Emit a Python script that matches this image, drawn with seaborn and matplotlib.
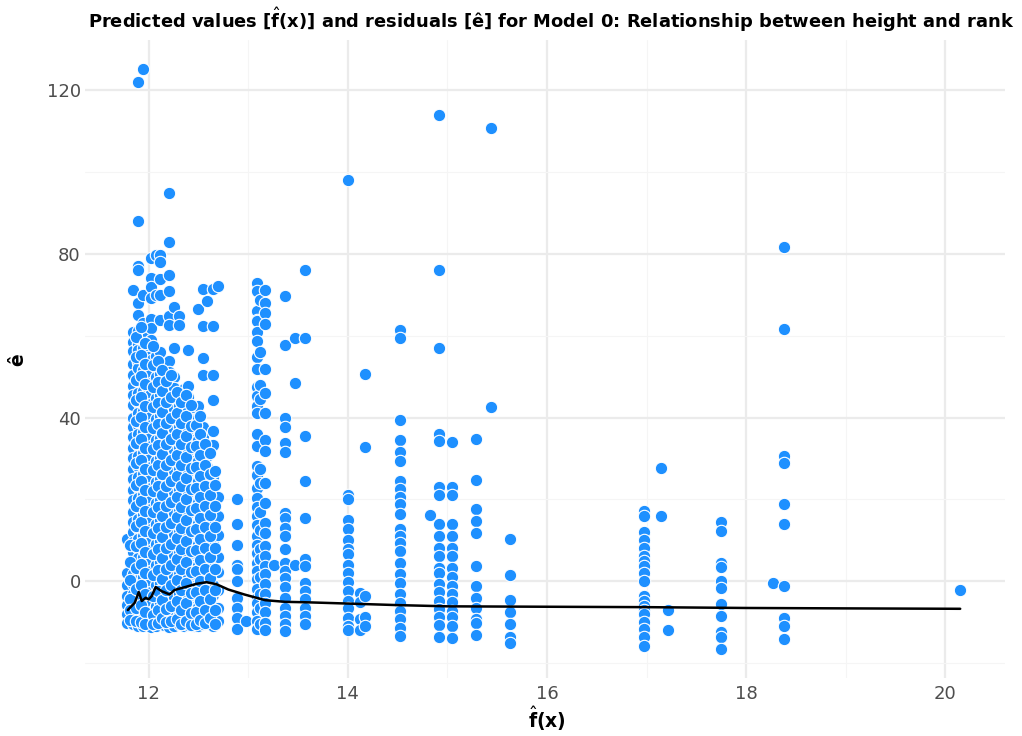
import numpy as np
import pandas as pd
import seaborn as sns
import matplotlib.pyplot as plt
from matplotlib.ticker import MultipleLocator

# fitted value levels of the dense block (f(x) around 11.8 - 12.7)
dense_fx = [11.78, 11.84, 11.89, 11.94, 11.99, 12.02, 12.07, 12.11, 12.15, 12.20,
            12.25, 12.30, 12.35, 12.39, 12.45, 12.49, 12.55, 12.59, 12.65, 12.70]
dense_resid = [
  [10.4, 2.1, -1.0, -3.5, -5.8, -8.0, -10.2],
  [71.2, 61.0, 58.5, 56.2, 53.0, 50.4, 47.8, 45.5, 43.1, 40.0, 37.6, 35.2, 32.5, 30.1, 27.4,
   24.9, 22.3, 19.8, 17.0, 14.6, 12.1, 9.5, 7.2, 4.4, 1.9, -0.6, -3.1, -5.4, -7.9, -10.3],
  [122.0, 88.0, 76.9, 76.1, 68.0, 65.0, 61.2, 58.0, 56.6, 53.5, 52.0, 48.9, 46.0, 43.7, 41.2,
   38.3, 36.0, 33.4, 30.6, 28.2, 25.5, 23.1, 20.4, 18.2, 15.3, 13.0, 10.4, 8.1, 5.6, 3.0, 0.4,
   -2.2, -4.6, -7.0, -9.2, -11.0],
  [125.0, 70.0, 63.1, 59.8, 57.0, 54.4, 51.7, 49.0, 46.5, 44.1, 41.6, 39.0, 36.4, 34.0, 31.3,
   28.8, 26.3, 23.7, 21.0, 18.7, 16.1, 13.5, 11.0, 8.6, 6.0, 3.5, 1.0, -1.6, -4.2, -6.6, -8.8, -10.9],
  [60.1, 57.2, 54.8, 52.1, 49.6, 47.0, 44.3, 41.9, 39.4, 36.9, 34.2, 31.8, 29.3, 26.6, 24.1,
   21.5, 19.0, 16.5, 14.0, 11.6, 9.0, 6.5, 4.0, 1.5, -1.0, -3.6, -6.1, -8.3, -10.7],
  [79.0, 74.0, 71.9, 69.2, 64.1, 61.9, 59.0, 54.1, 51.0, 48.4, 45.9, 43.2, 40.7, 38.2, 35.6,
   33.0, 30.5, 28.0, 25.4, 22.8, 20.3, 17.7, 15.2, 12.7, 10.2, 7.7, 5.1, 2.6, 0.1, -2.5, -5.0,
   -7.4, -9.8, -11.1],
  [79.8, 70.0, 55.0, 52.4, 49.9, 47.2, 44.7, 42.0, 39.6, 37.0, 34.5, 31.9, 29.4, 26.8, 24.2,
   21.8, 19.2, 16.7, 14.1, 11.7, 9.1, 6.6, 4.1, 1.6, -1.0, -3.4, -5.9, -8.5, -10.8],
  [79.8, 77.9, 73.8, 70.0, 63.9, 55.9, 53.0, 50.6, 48.1, 45.4, 42.9, 40.3, 37.8, 35.1, 32.7,
   30.1, 27.5, 25.0, 22.4, 19.9, 17.3, 14.9, 12.3, 9.8, 7.2, 4.7, 2.2, -0.3, -2.9, -5.3, -7.8, -10.2],
  [50.2, 47.6, 45.0, 42.4, 39.9, 37.3, 34.8, 32.2, 29.7, 27.1, 24.6, 22.0, 19.5, 17.0, 14.4,
   11.9, 9.4, 6.8, 4.3, 1.7, -0.8, -3.3, -5.8, -8.2, -10.6],
  [94.8, 82.8, 74.7, 70.8, 64.7, 62.7, 53.7, 51.2, 48.6, 46.1, 43.5, 41.0, 38.4, 35.9, 33.3,
   30.8, 28.2, 25.7, 23.1, 20.6, 18.0, 15.5, 12.9, 10.4, 7.8, 5.3, 2.7, 0.2, -2.4, -4.9, -7.4,
   -9.9, -11.2],
  [66.9, 56.9, 50.0, 47.3, 44.8, 42.2, 39.7, 37.1, 34.6, 32.0, 29.5, 26.9, 24.4, 21.8, 19.3,
   16.7, 14.2, 11.6, 9.1, 6.5, 4.0, 1.4, -1.1, -3.7, -6.2, -8.7, -10.9],
  [64.7, 62.7, 45.3, 42.8, 40.2, 37.6, 35.1, 32.5, 30.0, 27.4, 24.9, 22.3, 19.8, 17.2, 14.7,
   12.1, 9.6, 7.0, 4.5, 1.9, -0.6, -3.2, -5.7, -8.1, -10.5],
  [47.0, 44.2, 41.5, 38.9, 36.4, 33.8, 31.3, 28.7, 26.2, 23.6, 21.1, 18.5, 16.0, 13.4, 10.9,
   8.3, 5.8, 3.2, 0.7, -1.9, -4.4, -6.9, -9.3, -11.0],
  [56.6, 47.6, 45.0, 42.0, 39.5, 36.9, 34.4, 31.8, 29.3, 26.7, 24.2, 21.6, 19.1, 16.5, 14.0,
   11.4, 8.9, 6.3, 3.8, 1.2, -1.3, -3.9, -6.4, -8.8, -10.7],
  [42.1, 39.6, 37.0, 34.5, 31.9, 29.4, 26.8, 24.3, 21.7, 19.2, 16.6, 14.1, 11.5, 9.0, 6.4,
   3.9, 1.3, -1.2, -3.8, -6.3, -8.6, -10.9],
  [66.5, 42.8, 39.9, 37.2, 34.6, 32.0, 29.5, 26.9, 24.4, 21.8, 19.3, 16.7, 14.2, 11.6, 9.1,
   6.5, 4.0, 1.4, -1.1, -3.7, -6.2, -8.7, -11.0],
  [71.4, 62.4, 54.6, 50.3, 37.8, 35.3, 32.7, 30.2, 27.6, 25.1, 22.5, 20.0, 17.4, 14.9, 12.3,
   9.8, 7.2, 4.7, 2.1, -0.4, -3.0, -5.5, -8.0, -10.5],
  [68.4, 30.6, 28.0, 25.4, 22.9, 20.3, 17.8, 15.2, 12.7, 10.1, 7.6, 5.0, 2.5, -0.1, -2.6,
   -5.2, -7.7, -10.2],
  [71.4, 62.4, 50.5, 44.4, 36.7, 33.4, 25.6, 22.1, 19.6, 17.0, 14.5, 11.9, 9.4, 6.8, 4.3,
   1.7, -0.8, -3.4, -5.9, -8.4, -10.8],
  [72.2, 20.5, 16.0, 11.2, 6.0, 2.3, -2.0, -6.5, -9.8],
]

# in-between levels of the dense block
dense_fx_b = [11.81, 11.87, 11.92, 11.96, 12.04, 12.09, 12.13, 12.17, 12.22, 12.28,
              12.32, 12.37, 12.42, 12.47, 12.52, 12.57, 12.62, 12.67]
dense_resid_b = [
  [8.8, 4.7, 0.3, -4.4, -6.9, -9.5],
  [59.6, 54.9, 49.2, 44.3, 39.1, 33.9, 29.0, 23.6, 18.5, 13.4, 8.7, 3.2, -1.9, -6.6, -9.8],
  [62.0, 55.3, 50.2, 45.0, 40.1, 34.8, 29.7, 24.5, 19.6, 14.4, 9.3, 4.2, -0.9, -5.8, -9.9],
  [58.3, 53.2, 48.1, 42.8, 37.7, 32.6, 27.5, 22.4, 17.3, 12.2, 7.1, 2.0, -3.1, -7.6, -10.4],
  [57.4, 52.8, 47.5, 42.5, 37.4, 32.3, 27.2, 22.1, 16.9, 11.8, 6.7, 1.6, -3.5, -8.1, -10.5],
  [53.8, 48.7, 43.6, 38.5, 33.4, 28.3, 23.2, 18.1, 13.0, 7.9, 2.8, -2.3, -7.0, -10.1],
  [51.6, 46.5, 41.4, 36.3, 31.2, 26.1, 21.0, 15.9, 10.8, 5.7, 0.6, -4.5, -9.0],
  [48.9, 43.8, 38.7, 33.6, 28.5, 23.4, 18.3, 13.2, 8.1, 3.0, -2.1, -6.8, -10.0],
  [50.4, 44.9, 39.8, 34.7, 29.6, 24.5, 19.4, 14.3, 9.2, 4.1, -1.0, -6.0, -9.6],
  [46.2, 41.1, 36.0, 30.9, 25.8, 20.7, 15.6, 10.5, 5.4, 0.3, -4.8, -9.2],
  [43.7, 38.6, 33.5, 28.4, 23.3, 18.2, 13.1, 8.0, 2.9, -2.2, -7.1, -10.3],
  [45.6, 40.5, 35.4, 30.3, 25.2, 20.1, 15.0, 9.9, 4.8, -0.3, -5.2, -9.7],
  [43.0, 37.9, 32.8, 27.7, 22.6, 17.5, 12.4, 7.3, 2.2, -2.9, -7.8, -10.6],
  [38.2, 33.1, 28.0, 22.9, 17.8, 12.7, 7.6, 2.5, -2.6, -7.5, -10.4],
  [40.4, 35.9, 30.8, 25.7, 20.6, 15.5, 10.4, 5.3, 0.2, -4.9, -9.4],
  [33.6, 28.5, 23.4, 18.3, 13.2, 8.1, 3.0, -2.1, -7.0, -10.2],
  [31.4, 26.3, 21.2, 16.1, 11.0, 5.9, 0.8, -4.3, -8.9],
  [27.0, 23.5, 18.4, 13.3, 8.2, 3.1, -2.0, -6.9, -10.4],
]

# sparser fitted value levels to the right
sparse_fx = [12.89, 12.98, 13.09, 13.12, 13.17, 13.26, 13.37, 13.47, 13.57, 14.00,
             14.12, 14.17, 14.52, 14.82, 14.92, 15.05, 15.29, 15.44, 15.63, 16.97,
             17.15, 17.22, 17.75, 18.27, 18.38, 20.15]
sparse_resid = [
  [20.2, 14.1, 9.0, 4.1, 3.1, 0.1, -4.0, -6.4, -8.9, -11.7],
  [-9.7],
  [72.9, 70.8, 65.9, 63.9, 63.5, 61.0, 58.6, 54.8, 51.9, 47.5, 45.2, 42.8, 41.0, 35.9, 33.0,
   28.1, 25.9, 22.8, 20.4, 18.2, 15.9, 13.7, 11.0, 9.0, 7.0, 4.6, 2.5, 0.5, -1.8, -4.0, -5.2,
   -7.6, -9.7, -11.7],
  [68.8, 56.0, 48.0, 44.5, 27.5, 24.0, 17.0, 12.5, 8.0, 5.5, 1.0, -3.0, -6.5, -10.5],
  [71.2, 68.0, 65.5, 62.9, 51.9, 46.0, 41.1, 34.5, 31.8, 24.1, 19.2, 14.3, 11.9, 8.6, 6.2,
   3.7, 1.7, -0.7, -3.2, -5.2, -7.6, -10.1, -12.0],
  [3.9],
  [69.6, 57.6, 39.9, 37.7, 33.7, 31.5, 16.7, 15.5, 13.1, 11.0, 7.8, 4.6, 2.5, 0.9, -1.3,
   -4.0, -6.4, -8.5, -10.5, -12.1],
  [59.4, 48.5, 3.9],
  [76.1, 59.4, 35.4, 24.5, 15.5, 5.5, 3.7, -0.3, -2.4, -4.4, -6.4, -8.5, -10.5],
  [98.0, 21.2, 20.0, 15.1, 12.8, 10.1, 8.0, 6.8, 4.1, 2.1, -0.1, -2.4, -4.8, -6.4, -9.0,
   -10.9, -11.9],
  [-2.9, -5.0, -9.1, -12.0],
  [50.7, 32.8, -3.5, -8.7, -11.0],
  [61.5, 59.4, 39.5, 34.4, 31.5, 29.5, 24.5, 22.6, 20.7, 18.8, 16.5, 12.7, 11.0, 9.4, 7.4,
   4.6, 1.7, -0.3, -3.2, -5.2, -7.2, -9.3, -11.3, -13.3],
  [16.2],
  [114.0, 76.0, 57.0, 36.1, 34.2, 23.1, 21.1, 14.1, 11.1, 8.2, 6.2, 3.3, 2.1, -0.7, -2.7,
   -4.8, -6.8, -8.8, -10.7, -13.7],
  [34.0, 23.1, 21.0, 14.1, 11.0, 8.2, 6.2, 3.2, 1.0, -1.1, -3.0, -5.1, -7.2, -8.8, -10.9, -13.9],
  [34.8, 24.8, 17.7, 14.7, 11.7, 3.7, -1.1, -4.1, -6.4, -9.1, -10.2, -13.2],
  [110.7, 42.6],
  [10.4, 1.5, -4.5, -7.6, -10.5, -13.5, -15.0],
  [17.1, 15.9, 12.0, 10.2, 8.2, 6.2, 5.0, 3.7, 2.1, 0.1, -3.6, -4.8, -6.0, -7.0, -8.0, -9.9,
   -11.7, -13.5, -15.8],
  [27.8, 15.9],
  [-7.0, -12.0],
  [14.4, 12.2, 4.6, 3.4, 0.2, -1.7, -5.6, -8.5, -12.4, -13.6, -16.6],
  [-0.3],
  [81.7, 61.7, 30.7, 29.0, 18.8, 13.9, -1.2, -9.0, -11.0, -14.0],
  [-2.0],
]

# smoother through the residuals
smooth_fx = [11.79, 11.86, 11.90, 11.93, 11.97, 12.00, 12.03, 12.07, 12.13, 12.21, 12.26,
             12.38, 12.48, 12.58, 12.68, 12.80, 12.96, 13.17, 13.37, 13.57, 13.97, 14.50,
             15.00, 16.00, 17.00, 18.00, 19.00, 20.15]
smooth_resid = [-7.0, -5.2, -2.6, -4.8, -4.0, -4.4, -3.6, -1.4, -2.4, -3.2, -2.1,
                -1.3, -0.6, -0.2, -0.7, -2.0, -3.2, -4.6, -5.0, -5.1, -5.4, -5.8,
                -6.1, -6.2, -6.3, -6.5, -6.6, -6.7]

fhat = r"$\hat{\mathbf{f}}$"
title = "Predicted values [" + fhat + "(x)] and residuals [\u00ea] for Model 0: Relationship between height and rank"

rows = []
for fx, ys in zip(dense_fx + dense_fx_b + sparse_fx, dense_resid + dense_resid_b + sparse_resid):
  for y in ys:
    rows.append((fx, y))
df = pd.DataFrame(rows, columns=["fitted", "resid"])
smooth = pd.DataFrame({"fitted": smooth_fx, "resid": smooth_resid})

sns.set_style("white")
plt.rcParams['font.family'] = ['DejaVu Sans']
plt.rcParams['mathtext.fontset'] = 'dejavusans'

fig = plt.figure(figsize=(10.22, 7.36), dpi=100)
ax = fig.add_axes([85 / 1022, 1 - 678 / 736, 920 / 1022, 638 / 736])

sns.scatterplot(data=df, x="fitted", y="resid", ax=ax, color="#1E90FF",
                edgecolor="white", linewidth=0.8, s=80, zorder=3)
sns.lineplot(data=smooth, x="fitted", y="resid", ax=ax, color="black",
             linewidth=1.8, sort=False, estimator=None, zorder=4)

ax.set_xlim(11.36, 20.6)
ax.set_ylim(-23.6, 132.2)
ax.xaxis.set_major_locator(MultipleLocator(2))
ax.xaxis.set_minor_locator(MultipleLocator(1))
ax.yaxis.set_major_locator(MultipleLocator(40))
ax.yaxis.set_minor_locator(MultipleLocator(20))
ax.grid(True, which="major", color="#ebebeb", linewidth=1.6, zorder=0)
ax.grid(True, which="minor", color="#f5f5f5", linewidth=0.8, zorder=0)
ax.set_axisbelow(True)
for sp in ax.spines.values():
  sp.set_visible(False)
ax.tick_params(which="both", length=0, labelsize=13, labelcolor="#4d4d4d")
ax.tick_params(axis="x", pad=5)
ax.tick_params(axis="y", pad=3)
ax.set_xlabel("")
ax.set_ylabel("")

fig.text(88 / 1022, 1 - 20 / 736, title, fontsize=12.9, fontweight="bold", color="black",
         ha="left", va="center")
fig.text(547 / 1022, 1 - 719 / 736, fhat + "(x)", fontsize=13.5, fontweight="bold",
         color="black", ha="center", va="center")
fig.text(18 / 1022, 1 - 360 / 736, "\u00ea", fontsize=13.5, fontweight="bold", color="black",
         ha="center", va="center", rotation=90)

fig.savefig("out.png", dpi=100)
